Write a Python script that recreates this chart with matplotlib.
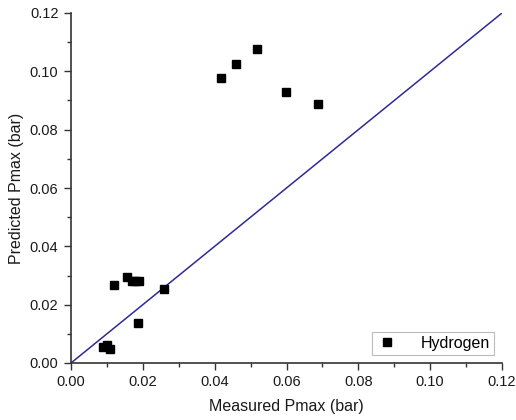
import matplotlib
matplotlib.use('Agg')
import matplotlib.pyplot as plt
from matplotlib.ticker import MultipleLocator

plt.rcParams['font.family'] = ['Liberation Sans', 'DejaVu Sans']

# Datos medidos vs predichos
measured = [0.0088, 0.0099, 0.0109, 0.0119, 0.0156, 0.0170, 0.0178, 0.0188,
            0.0187, 0.0258, 0.0418, 0.0459, 0.0518, 0.0599, 0.0688]
predicted = [0.0054, 0.0062, 0.0048, 0.0267, 0.0296, 0.0282, 0.0282, 0.0282,
             0.0138, 0.0254, 0.0977, 0.1025, 0.1076, 0.0929, 0.0888]
line_x = [0.0, 0.12]

fig = plt.figure(figsize=(5.16, 4.2), dpi=100)
ax = fig.add_axes([71 / 516, 57 / 420, 431 / 516, 350 / 420])

ax.plot(line_x, line_x, color='#2e2a96', lw=1.1)
ax.plot(measured, predicted, 's', color='black', ms=6, label='Hydrogen')

ax.set_xlim(0, 0.12)
ax.set_ylim(0, 0.12)
ax.xaxis.set_major_locator(MultipleLocator(0.02))
ax.yaxis.set_major_locator(MultipleLocator(0.02))
ax.xaxis.set_minor_locator(MultipleLocator(0.01))
ax.yaxis.set_minor_locator(MultipleLocator(0.01))
ax.xaxis.set_major_formatter(plt.FormatStrFormatter('%.2f'))
ax.yaxis.set_major_formatter(plt.FormatStrFormatter('%.2f'))
ax.spines['top'].set_visible(False)
ax.spines['right'].set_visible(False)
for s in ('left', 'bottom'):
    ax.spines[s].set_color('#333333')
    ax.spines[s].set_linewidth(1.2)
ax.tick_params(which='major', direction='out', length=5, width=1.0,
               labelsize=10.5, colors='#333333', labelcolor='#1a1a1a',
               pad=4)
ax.tick_params(which='minor', direction='out', length=3, width=1.0,
               colors='#333333')

ax.set_xlabel('Measured Pmax (bar)', fontsize=11.5, color='#1a1a1a',
              labelpad=7)
ax.set_ylabel('Predicted Pmax (bar)', fontsize=11.5, color='#1a1a1a',
              labelpad=4)

leg = ax.legend(loc='lower right', fontsize=11.5, frameon=True,
                fancybox=False, edgecolor='#aaaaaa', handlelength=1.4,
                handletextpad=1.4, markerscale=0.9, borderaxespad=0,
                bbox_to_anchor=(0.981, 0.024), borderpad=0.25)
leg.get_frame().set_linewidth(0.8)

fig.savefig('out.png', dpi=100)
